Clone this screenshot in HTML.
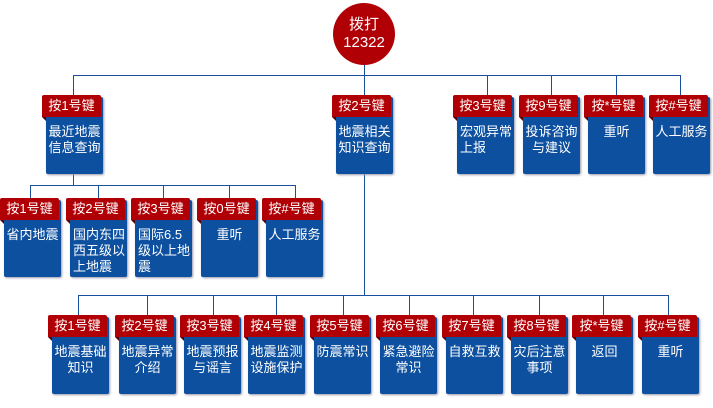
<!DOCTYPE html>
<html><head><meta charset="utf-8"><style>
body{margin:0;width:713px;height:408px;background:#fff;position:relative;overflow:hidden;font-family:"Liberation Sans","Noto Sans CJK SC","WenQuanYi Zen Hei",sans-serif}
.l{position:absolute;background:#1a4f9c}
.c{position:absolute;width:64px;height:80px}
.b{position:absolute;left:4px;top:2px;width:57px;height:77px;background:#0d50a0;border-radius:2px;box-shadow:1px 1px 2px #99a;color:#fff;font-size:13px;line-height:16px;box-sizing:border-box;padding:27px 0 0 0;text-align:center;white-space:nowrap}
.b.lf{text-align:left;padding-left:3px}
.t{position:absolute;left:0;top:0;width:59px;height:22px;background:#b00006;color:#fff;font-size:13px;line-height:22px;text-align:center;border-radius:2px 2px 0 0;white-space:nowrap}
.t:after{content:"";position:absolute;left:0;top:22px;border-top:4px solid #5a0003;border-left:4px solid transparent}
.circ{position:absolute;left:333px;top:3px;width:62px;height:62px;border-radius:50%;background:#b00006;color:#fff;font-size:15px;line-height:18px;text-align:center;box-sizing:border-box;padding-top:13px}
</style></head><body>
<div class="l" style="left:364px;top:62px;width:1px;height:233px"></div>
<div class="l" style="left:73px;top:75px;width:607px;height:1px"></div>
<div class="l" style="left:73px;top:75px;width:1px;height:20px"></div>
<div class="l" style="left:487px;top:75px;width:1px;height:20px"></div>
<div class="l" style="left:551px;top:75px;width:1px;height:20px"></div>
<div class="l" style="left:616px;top:75px;width:1px;height:20px"></div>
<div class="l" style="left:680px;top:75px;width:1px;height:20px"></div>
<div class="l" style="left:73px;top:172px;width:1px;height:13px"></div>
<div class="l" style="left:30px;top:185px;width:265px;height:1px"></div>
<div class="l" style="left:30px;top:185px;width:1px;height:13px"></div>
<div class="l" style="left:98px;top:185px;width:1px;height:13px"></div>
<div class="l" style="left:163px;top:185px;width:1px;height:13px"></div>
<div class="l" style="left:229px;top:185px;width:1px;height:13px"></div>
<div class="l" style="left:295px;top:185px;width:1px;height:13px"></div>
<div class="l" style="left:78px;top:295px;width:590px;height:1px"></div>
<div class="l" style="left:78px;top:295px;width:1px;height:20px"></div>
<div class="l" style="left:147px;top:295px;width:1px;height:20px"></div>
<div class="l" style="left:213px;top:295px;width:1px;height:20px"></div>
<div class="l" style="left:276px;top:295px;width:1px;height:20px"></div>
<div class="l" style="left:343px;top:295px;width:1px;height:20px"></div>
<div class="l" style="left:409px;top:295px;width:1px;height:20px"></div>
<div class="l" style="left:473px;top:295px;width:1px;height:20px"></div>
<div class="l" style="left:539px;top:295px;width:1px;height:20px"></div>
<div class="l" style="left:603px;top:295px;width:1px;height:20px"></div>
<div class="l" style="left:668px;top:295px;width:1px;height:20px"></div>
<div class="circ">拨打<br>12322</div>

<div class="c" style="left:42px;top:95px"><div class="b">最近地震<br>信息查询</div><div class="t">按1号键</div></div>
<div class="c" style="left:332px;top:95px"><div class="b">地震相关<br>知识查询</div><div class="t">按2号键</div></div>
<div class="c" style="left:453px;top:95px"><div class="b lf">宏观异常<br>上报</div><div class="t">按3号键</div></div>
<div class="c" style="left:519px;top:95px"><div class="b">投诉咨询<br>与建议</div><div class="t">按9号键</div></div>
<div class="c" style="left:584px;top:95px"><div class="b">重听</div><div class="t">按*号键</div></div>
<div class="c" style="left:649px;top:95px"><div class="b">人工服务</div><div class="t">按#号键</div></div>

<div class="c" style="left:0px;top:198px"><div class="b">省内地震</div><div class="t">按1号键</div></div>
<div class="c" style="left:66px;top:198px"><div class="b lf">国内东四<br>西五级以<br>上地震</div><div class="t">按2号键</div></div>
<div class="c" style="left:131px;top:198px"><div class="b lf">国际6.5<br>级以上地<br>震</div><div class="t">按3号键</div></div>
<div class="c" style="left:197px;top:198px"><div class="b">重听</div><div class="t">按0号键</div></div>
<div class="c" style="left:262px;top:198px"><div class="b">人工服务</div><div class="t">按#号键</div></div>

<div class="c" style="left:48px;top:315px"><div class="b">地震基础<br>知识</div><div class="t">按1号键</div></div>
<div class="c" style="left:115px;top:315px"><div class="b">地震异常<br>介绍</div><div class="t">按2号键</div></div>
<div class="c" style="left:180px;top:315px"><div class="b">地震预报<br>与谣言</div><div class="t">按3号键</div></div>
<div class="c" style="left:244px;top:315px"><div class="b">地震监测<br>设施保护</div><div class="t">按4号键</div></div>
<div class="c" style="left:310px;top:315px"><div class="b">防震常识</div><div class="t">按5号键</div></div>
<div class="c" style="left:376px;top:315px"><div class="b">紧急避险<br>常识</div><div class="t">按6号键</div></div>
<div class="c" style="left:442px;top:315px"><div class="b">自救互救</div><div class="t">按7号键</div></div>
<div class="c" style="left:507px;top:315px"><div class="b">灾后注意<br>事项</div><div class="t">按8号键</div></div>
<div class="c" style="left:572px;top:315px"><div class="b">返回</div><div class="t">按*号键</div></div>
<div class="c" style="left:638px;top:315px"><div class="b">重听</div><div class="t">按#号键</div></div>
</body></html>
